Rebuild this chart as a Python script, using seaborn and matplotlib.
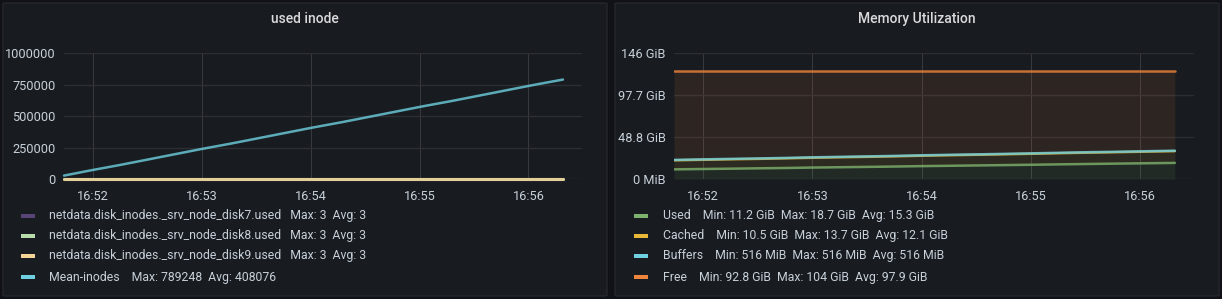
import matplotlib
matplotlib.use("Agg")
import matplotlib.pyplot as plt
import seaborn as sns
import pandas as pd
import numpy as np
from matplotlib.patches import FancyBboxPatch, Rectangle

# ---------------- data ----------------
# time in seconds after 16:51:00
times = [44, 59, 75, 90, 105, 120, 136, 151, 166, 181, 197, 212, 227, 242, 258, 273, 288, 303, 319]
tick_secs = [60, 120, 180, 240, 300]
tick_labels = ["16:52", "16:53", "16:54", "16:55", "16:56"]

# left panel: used inode
disk7 = [3] * 19
disk8 = [3] * 19
disk9 = [3] * 19
mean_inodes = [27000, 69300, 111700, 154000, 196400, 238700, 281100, 323400, 365800, 408100,
               450500, 492800, 535200, 577500, 619900, 662200, 704600, 746900, 789248]
inode_yticks = [0, 250000, 500000, 750000, 1000000]
inode_ytick_labels = ["0", "250000", "500000", "750000", "1000000"]
inode_names = ["netdata.disk_inodes._srv_node_disk7.used", "netdata.disk_inodes._srv_node_disk8.used",
               "netdata.disk_inodes._srv_node_disk9.used", "Mean-inodes"]
inode_stats = ["Max: 3  Avg: 3", "Max: 3  Avg: 3", "Max: 3  Avg: 3", "Max: 789248  Avg: 408076"]

# right panel: memory (GiB), stacked
used = [11.2, 11.6, 12.0, 12.4, 12.8, 13.3, 13.7, 14.1, 14.5, 15.0, 15.4, 15.8, 16.2, 16.6, 17.1, 17.5, 17.9, 18.3, 18.7]
cached = [10.5, 10.7, 10.9, 11.0, 11.2, 11.4, 11.6, 11.7, 11.9, 12.1, 12.3, 12.4, 12.6, 12.8, 13.0, 13.2, 13.3, 13.5, 13.7]
buffers = [0.504] * 19
free = [103.6, 103.0, 102.4, 101.9, 101.3, 100.6, 100.0, 99.5, 98.9, 98.2, 97.6, 97.1, 96.5, 95.9, 95.2, 94.6, 94.1, 93.5, 92.9]
mem_yticks = [0, 48.83, 97.66, 146.48]
mem_ytick_labels = ["0 MiB", "48.8 GiB", "97.7 GiB", "146 GiB"]
mem_names = ["Used", "Cached", "Buffers", "Free"]
mem_stats = ["Min: 11.2 GiB  Max: 18.7 GiB  Avg: 15.3 GiB",
             "Min: 10.5 GiB  Max: 13.7 GiB  Avg: 12.1 GiB",
             "Min: 516 MiB  Max: 516 MiB  Avg: 516 MiB",
             "Min: 92.8 GiB  Max: 104 GiB  Avg: 97.9 GiB"]

# ---------------- style ----------------
sns.set_theme(style="dark")
plt.rcParams["font.family"] = ["Roboto", "DejaVu Sans"]

W, H = 1222, 299
BG = "#111217"
PANEL = "#181b1f"
BORDER = "#25272c"
GRID_Y = "#2c2e33"
GRID_X = "#383a3f"
TXT = "#c7d0d9"

fig = plt.figure(figsize=(W / 100, H / 100), dpi=100, facecolor=BG)


def px_rect(x0, y0, x1, y1):
    return [x0 / W, 1 - y1 / H, (x1 - x0) / W, (y1 - y0) / H]


# panel backgrounds
for (x0, x1) in [(3, 607), (615, 1219)]:
    fig.patches.append(FancyBboxPatch((x0 / W, 1 - 296 / H), (x1 - x0) / W, 293 / H,
                                      boxstyle="round,pad=0,rounding_size=0.003",
                                      transform=fig.transFigure, facecolor=PANEL,
                                      edgecolor=BORDER, linewidth=1, zorder=-10))


def style_ax(ax, yticks, ylabels):
    ax.set_facecolor("none")
    for s in ax.spines.values():
        s.set_visible(False)
    ax.set_xlim(44, 329.5)
    ax.set_xticks(tick_secs)
    ax.set_xticklabels(tick_labels)
    ax.set_yticks(yticks)
    ax.set_yticklabels(ylabels)
    ax.set_ylim(yticks[0], yticks[-1])
    ax.grid(True, axis="y", color=GRID_Y, linewidth=1)
    ax.grid(True, axis="x", color=GRID_X, linewidth=0.75)
    ax.set_axisbelow(True)
    ax.tick_params(axis="both", length=0, colors=TXT, labelsize=9.2)
    ax.tick_params(axis="x", pad=8)
    ax.tick_params(axis="y", pad=6)
    ax.set_xlabel("")
    ax.set_ylabel("")
    if ax.get_legend():
        ax.get_legend().remove()


# ---------------- left panel ----------------
axL = fig.add_axes(px_rect(64, 53, 582, 179))
axL.set_zorder(1)
inode_colors = ["#584477", "#B7DBAB", "#F4D598", "#6ED0E0"]
for vals, col, lw in zip([disk7, disk8, disk9, mean_inodes], inode_colors, [2.2, 2.2, 2.2, 1.8]):
    df = pd.DataFrame({"t": times, "v": vals})
    sns.lineplot(data=df, x="t", y="v", ax=axL, color=col, linewidth=lw, alpha=0.8,
                 clip_on=False, zorder=3)
style_ax(axL, inode_yticks, inode_ytick_labels)
fig.text(305 / W, 1 - 19 / H, "used inode", ha="center", va="center", color="#d8d9da",
         fontsize=10, fontweight="medium")

# ---------------- right panel ----------------
axR = fig.add_axes(px_rect(674, 53, 1194, 179))
axR.set_zorder(1)
mem_colors = ["#7EB26D", "#EAB839", "#6ED0E0", "#EF843C"]
series = [used, cached, buffers, free]
lower = np.zeros(len(times))
for vals, col in zip(series, mem_colors):
    upper = lower + np.array(vals)
    axR.fill_between(times, lower, upper, color=col, alpha=0.1, linewidth=0, zorder=2)
    df = pd.DataFrame({"t": times, "v": upper})
    sns.lineplot(data=df, x="t", y="v", ax=axR, color=col, linewidth=1.8, alpha=0.8, zorder=3)
    lower = upper
style_ax(axR, mem_yticks, mem_ytick_labels)
fig.text(917 / W, 1 - 19 / H, "Memory Utilization", ha="center", va="center", color="#d8d9da",
         fontsize=10, fontweight="medium")

# ---------------- legends ----------------
rows_y = [216, 236, 256, 277]
for i in range(4):
    y = rows_y[i]
    # left
    fig.patches.append(Rectangle((21 / W, 1 - (y + 2) / H), 14 / W, 4 / H, transform=fig.transFigure,
                                 facecolor=inode_colors[i], edgecolor="none", zorder=2))
    gap = "   " if i < 3 else "    "
    fig.text(49 / W, 1 - y / H, inode_names[i] + gap + inode_stats[i], ha="left", va="center",
             color=TXT, fontsize=8.85)
    # right
    fig.patches.append(Rectangle((634 / W, 1 - (y + 2) / H), 14 / W, 4 / H, transform=fig.transFigure,
                                 facecolor=mem_colors[i], edgecolor="none", zorder=2))
    fig.text(663 / W, 1 - y / H, mem_names[i] + "    " + mem_stats[i], ha="left", va="center",
             color=TXT, fontsize=8.85)

fig.savefig("out.png", dpi=100, facecolor=BG)
